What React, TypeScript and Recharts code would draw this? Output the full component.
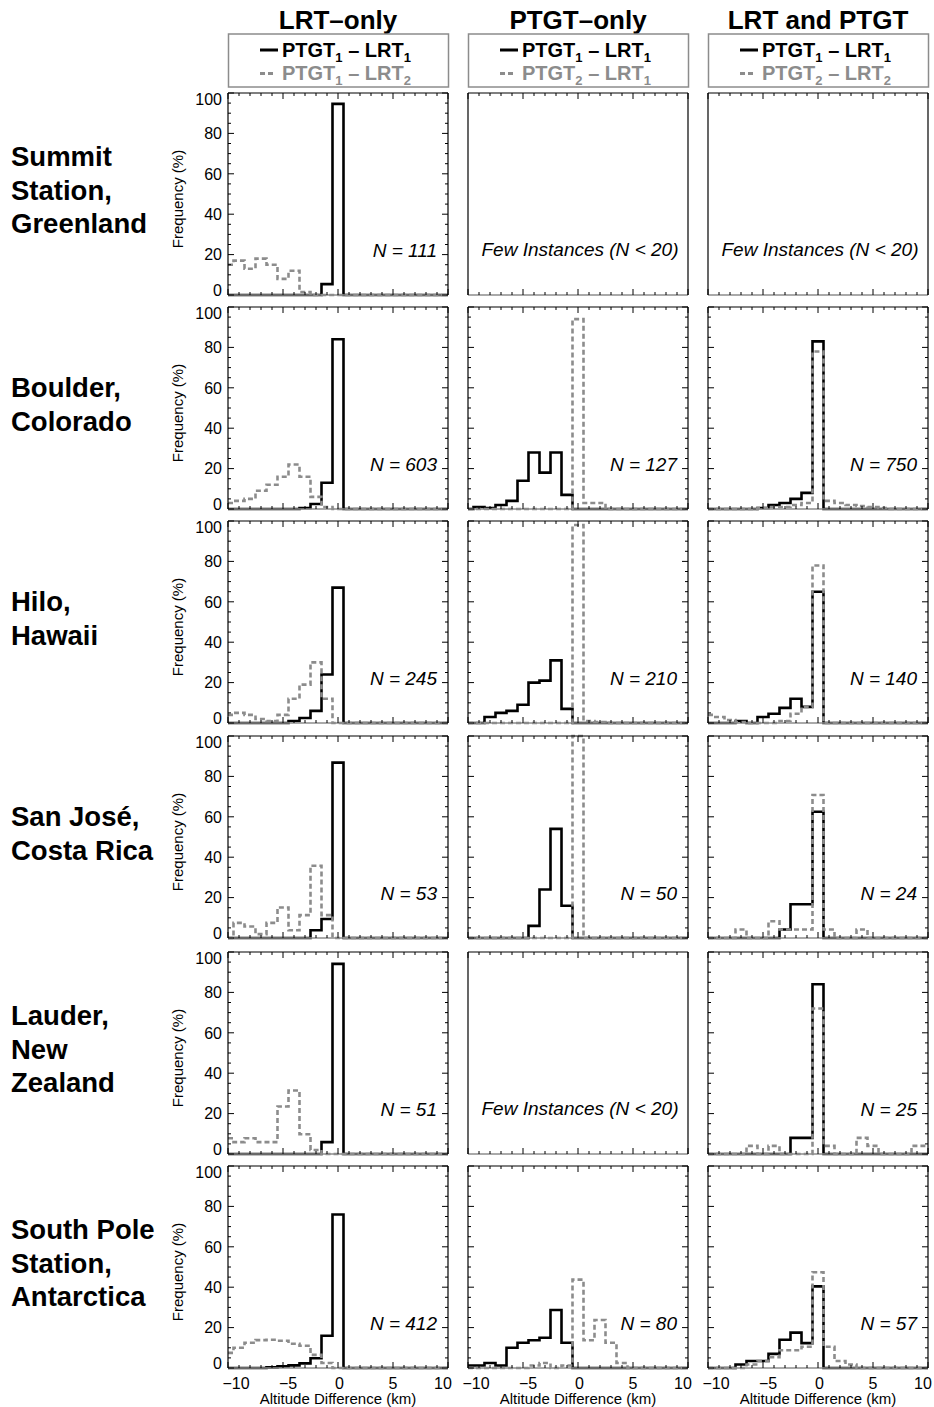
import React from 'react';
import { LineChart, Line, XAxis, YAxis } from 'recharts';

// ---------- axes / labels ----------
const altitudeBins = [-10, -9, -8, -7, -6, -5, -4, -3, -2, -1, 0, 1, 2, 3, 4, 5, 6, 7, 8, 9, 10];
const altitudeTicks = altitudeBins;
const frequencyTicks = [0, 5, 10, 15, 20, 25, 30, 35, 40, 45, 50, 55, 60, 65, 70, 75, 80, 85, 90, 95, 100];

const columnTitles = ['LRT–only', 'PTGT–only', 'LRT and PTGT'];
const legendSolid = [
  ['PTGT', '1', 'LRT', '1'],
  ['PTGT', '1', 'LRT', '1'],
  ['PTGT', '1', 'LRT', '1'],
];
const legendDashed = [
  ['PTGT', '1', 'LRT', '2'],
  ['PTGT', '2', 'LRT', '1'],
  ['PTGT', '2', 'LRT', '2'],
];
const stationNames = [
  ['Summit', 'Station,', 'Greenland'],
  ['Boulder,', 'Colorado'],
  ['Hilo,', 'Hawaii'],
  ['San José,', 'Costa Rica'],
  ['Lauder,', 'New', 'Zealand'],
  ['South Pole', 'Station,', 'Antarctica'],
];
const sampleSizes: (number | null)[][] = [
  [111, null, null],
  [603, 127, 750],
  [245, 210, 140],
  [53, 50, 24],
  [51, null, 25],
  [412, 80, 57],
];

// ---------- series (frequency %, bins -10 .. 10 km) ----------
const summitLrtSolid = [0, 0, 0, 0, 0, 0, 0, 0, 0, 5.4, 94.6, 0, 0, 0, 0, 0, 0, 0, 0, 0, 0];
const summitLrtDashed = [15, 17, 13, 18, 15, 8, 12, 1.5, 0, 0, 0, 0, 0, 0, 0, 0, 0, 0, 0, 0, 0];

const boulderLrtSolid = [0, 0, 0, 0, 0, 0, 0, 0.5, 2.5, 13, 84, 0, 0, 0, 0, 0, 0, 0, 0, 0, 0];
const boulderLrtDashed = [3, 4, 5, 9, 12, 16, 22, 16, 6, 1, 0, 0, 0, 0, 0, 0, 0, 0, 0, 0, 0];
const boulderPtgtSolid = [0, 1, 0.5, 2, 4, 14, 28, 18, 28, 7, 0, 0, 0, 0, 0, 0, 0, 0, 0, 0, 0];
const boulderPtgtDashed = [0, 0, 0, 0, 0, 0, 0, 0, 0, 0, 94, 3, 3, 0, 0, 0, 0, 0, 0, 0, 0];
const boulderBothSolid = [0, 0, 0, 0, 0, 0.5, 2, 3, 5, 8, 83, 0, 0, 0, 0, 0, 0, 0, 0, 0, 0];
const boulderBothDashed = [0, 0, 0, 0, 0, 0.5, 1, 1, 2, 3, 78, 4, 3, 2, 1.5, 1, 0.5, 0, 0, 0, 0];

const hiloLrtSolid = [0, 0, 0, 0, 0, 0, 1, 2.5, 6, 24, 67, 0, 0, 0, 0, 0, 0, 0, 0, 0, 0];
const hiloLrtDashed = [4, 5, 4, 2, 1, 4, 12, 19, 30, 12, 0, 0, 0, 0, 0, 0, 0, 0, 0, 0, 0];
const hiloPtgtSolid = [0, 0, 3, 5, 6, 9, 20, 21, 31, 7, 0, 0, 0, 0, 0, 0, 0, 0, 0, 0, 0];
const hiloPtgtDashed = [0, 0, 0, 0, 0, 0, 0, 0, 0, 0, 98, 1, 0.5, 0, 0, 0, 0, 0, 0, 0, 0];
const hiloBothSolid = [0, 0, 0, 1, 0, 3, 4.6, 7.5, 12, 8, 65, 0, 0, 0, 0, 0, 0, 0, 0, 0, 0];
const hiloBothDashed = [4, 3, 1.5, 0.5, 0, 0, 0, 1, 4.6, 8, 78, 0, 0, 0, 0, 0, 0, 0, 0, 0, 0];

const sanJoseLrtSolid = [0, 0, 0, 0, 0, 0, 0, 0, 3.8, 9.4, 86.8, 0, 0, 0, 0, 0, 0, 0, 0, 0, 0];
const sanJoseLrtDashed = [0, 7.5, 5.7, 1.9, 7.5, 15.1, 3.8, 11.3, 35.8, 11.3, 0, 0, 0, 0, 0, 0, 0, 0, 0, 0, 0];
const sanJosePtgtSolid = [0, 0, 0, 0, 0, 0, 6, 24, 54, 16, 0, 0, 0, 0, 0, 0, 0, 0, 0, 0, 0];
const sanJosePtgtDashed = [0, 0, 0, 0, 0, 0, 0, 0, 0, 0, 100, 0, 0, 0, 0, 0, 0, 0, 0, 0, 0];
const sanJoseBothSolid = [0, 0, 0, 0, 0, 0, 0, 4.2, 16.7, 16.7, 62.5, 0, 0, 0, 0, 0, 0, 0, 0, 0, 0];
const sanJoseBothDashed = [0, 0, 0, 4.2, 0, 0, 8.3, 4.2, 4.2, 4.2, 70.8, 4.2, 0, 0, 4.2, 0, 0, 0, 0, 0, 0];

const lauderLrtSolid = [0, 0, 0, 0, 0, 0, 0, 0, 0, 5.9, 94.1, 0, 0, 0, 0, 0, 0, 0, 0, 0, 0];
const lauderLrtDashed = [7.8, 5.9, 7.8, 5.9, 5.9, 23.5, 31.4, 9.8, 2, 0, 0, 0, 0, 0, 0, 0, 0, 0, 0, 0, 0];
const lauderBothSolid = [0, 0, 0, 0, 0, 0, 0, 0, 8, 8, 84, 0, 0, 0, 0, 0, 0, 0, 0, 0, 0];
const lauderBothDashed = [0, 0, 0, 0, 4, 0, 4, 0, 0, 0, 72, 4, 0, 0, 8, 4, 0, 0, 0, 4, 4];

const southPoleLrtSolid = [0, 0, 0, 0, 0.3, 0.8, 1.3, 2.3, 4.8, 16, 76, 0, 0, 0, 0, 0, 0, 0, 0, 0, 0];
const southPoleLrtDashed = [7.5, 10, 12.5, 13.8, 14, 13.5, 12, 11, 6.5, 2.5, 0, 0, 0, 0, 0, 0, 0, 0, 0, 0, 0];
const southPolePtgtSolid = [1.25, 1.25, 2.5, 1.25, 10, 12.5, 13.75, 15, 28.75, 12.5, 0, 0, 0, 0, 0, 0, 0, 0, 0, 0, 0];
const southPolePtgtDashed = [0, 0, 0, 0, 0, 0, 1.25, 2.5, 0, 1.25, 43.75, 13.75, 23.75, 12.5, 2.5, 0, 0, 0, 0, 0, 0];
const southPoleBothSolid = [0, 0, 0, 1.75, 3.5, 3.5, 7, 14, 17.5, 12.3, 40.4, 0, 0, 0, 0, 0, 0, 0, 0, 0, 0];
const southPoleBothDashed = [0, 0, 0, 0, 1.75, 3.5, 5.3, 8.8, 8.8, 10.5, 47.4, 10.5, 3.5, 1.75, 0, 0, 0, 0, 0, 0, 0];

type Pair = { solid: number[]; dashed: number[] } | null;
const panelSeries: Pair[][] = [
  [{ solid: summitLrtSolid, dashed: summitLrtDashed }, null, null],
  [
    { solid: boulderLrtSolid, dashed: boulderLrtDashed },
    { solid: boulderPtgtSolid, dashed: boulderPtgtDashed },
    { solid: boulderBothSolid, dashed: boulderBothDashed },
  ],
  [
    { solid: hiloLrtSolid, dashed: hiloLrtDashed },
    { solid: hiloPtgtSolid, dashed: hiloPtgtDashed },
    { solid: hiloBothSolid, dashed: hiloBothDashed },
  ],
  [
    { solid: sanJoseLrtSolid, dashed: sanJoseLrtDashed },
    { solid: sanJosePtgtSolid, dashed: sanJosePtgtDashed },
    { solid: sanJoseBothSolid, dashed: sanJoseBothDashed },
  ],
  [{ solid: lauderLrtSolid, dashed: lauderLrtDashed }, null, { solid: lauderBothSolid, dashed: lauderBothDashed }],
  [
    { solid: southPoleLrtSolid, dashed: southPoleLrtDashed },
    { solid: southPolePtgtSolid, dashed: southPolePtgtDashed },
    { solid: southPoleBothSolid, dashed: southPoleBothDashed },
  ],
];

// ---------- layout ----------
const FONT = "'Liberation Sans', Arial, Helvetica, sans-serif";
const GRAY = '#8c8c8c';
const PW = 220;
const PH = 202;
const ML = 44;
const MT = 6;
const MR = 6;
const MB = 44;
const CW = ML + PW + MR;
const CH = MT + PH + MB;
const colLeft = [228, 468, 708];
const rowTop = [93, 307, 521, 736, 952, 1166];

const altLabelShift: Record<string, number> = { '-10': 8, '-5': 5, '0': 1.5, '5': 0, '10': -5 };
const fmtAlt = (v: number) => (v < 0 ? `\u2212${Math.abs(v)}` : `${v}`);

// bottom-axis ticks: inward ticks on the bottom and top frame, plus the top and right frame edges
const makeBottomTick = (showLabels: boolean) => (props: any) => {
  const { x, y, payload } = props;
  const v = payload.value as number;
  const major = v % 5 === 0;
  const len = major ? 6 : 3;
  return (
    <g>
      <line x1={x} x2={x} y1={y} y2={y - len} stroke="#000" strokeWidth={1} />
      <line x1={x} x2={x} y1={y - PH} y2={y - PH + len} stroke="#000" strokeWidth={1} />
      {v === -10 ? <line x1={x} x2={x + PW} y1={y - PH} y2={y - PH} stroke="#000" strokeWidth={1.2} /> : null}
      {v === 10 ? <line x1={x} x2={x} y1={y} y2={y - PH} stroke="#000" strokeWidth={1.2} /> : null}
      {showLabels && major ? (
        <text x={x + (altLabelShift[String(v)] ?? 0)} y={y + 21} textAnchor="middle" fontFamily={FONT} fontSize={16} fill="#000">
          {fmtAlt(v)}
        </text>
      ) : null}
    </g>
  );
};

// left-axis ticks: inward ticks on the left and right frame
const makeLeftTick = (showLabels: boolean) => (props: any) => {
  const { x, y, payload } = props;
  const v = payload.value as number;
  const major = v % 20 === 0;
  const len = major ? 6 : 3;
  const shift = v === 100 ? 6 : v === 0 ? -5 : 0;
  return (
    <g>
      <line x1={x} x2={x + len} y1={y} y2={y} stroke="#000" strokeWidth={1} />
      <line x1={x + PW} x2={x + PW - len} y1={y} y2={y} stroke="#000" strokeWidth={1} />
      {showLabels && major ? (
        <text x={x - 6} y={y + shift + 5.7} textAnchor="end" fontFamily={FONT} fontSize={16} fill="#000">
          {v}
        </text>
      ) : null}
    </g>
  );
};

function Panel({ row, col }: { row: number; col: number }) {
  const pair = panelSeries[row][col];
  const data = altitudeBins.map((alt, i) =>
    pair ? { alt, solid: pair.solid[i], dashed: pair.dashed[i] } : { alt }
  );
  const isBottom = row === rowTop.length - 1;
  const isFirstCol = col === 0;
  return (
    <div style={{ position: 'absolute', left: colLeft[col] - ML, top: rowTop[row] - MT, width: CW, height: CH }}>
      <LineChart width={CW} height={CH} data={data} margin={{ top: MT, right: MR, bottom: 0, left: 0 }}>
        <XAxis
          type="number"
          dataKey="alt"
          domain={[-10, 10]}
          ticks={altitudeTicks}
          interval={0}
          height={MB}
          tickLine={false}
          tickSize={0}
          tickMargin={0}
          axisLine={{ stroke: GRAY, strokeWidth: 1.6 }}
          tick={makeBottomTick(isBottom)}
        />
        <YAxis
          type="number"
          domain={[0, 100]}
          ticks={frequencyTicks}
          interval={0}
          width={ML}
          tickLine={false}
          tickSize={0}
          tickMargin={0}
          axisLine={{ stroke: '#000', strokeWidth: 1.2 }}
          tick={makeLeftTick(isFirstCol)}
        />
        {pair ? (
          <Line
            dataKey="solid"
            type="step"
            stroke="#000"
            strokeWidth={2.6}
            strokeLinejoin="miter"
            dot={false}
            activeDot={false}
            isAnimationActive={false}
          />
        ) : null}
        {pair ? (
          <Line
            dataKey="dashed"
            type="step"
            stroke={GRAY}
            strokeWidth={2.6}
            strokeDasharray="5 3"
            strokeLinejoin="miter"
            dot={false}
            activeDot={false}
            isAnimationActive={false}
          />
        ) : null}
      </LineChart>
    </div>
  );
}

function LegendText({ x, y, parts, fill }: { x: number; y: number; parts: string[]; fill: string }) {
  return (
    <text x={x} y={y} fontFamily={FONT} fontWeight="bold" fontSize={20} fill={fill} style={{ whiteSpace: 'pre' }}>
      {parts[0]}
      <tspan fontSize={13} dy={5}>{parts[1]}</tspan>
      <tspan dy={-5}>{' \u2013 '}{parts[2]}</tspan>
      <tspan fontSize={13} dy={5}>{parts[3]}</tspan>
    </text>
  );
}

export default function App() {
  const panels: React.ReactNode[] = [];
  for (let r = 0; r < rowTop.length; r++) {
    for (let c = 0; c < 3; c++) {
      panels.push(<Panel key={`${r}-${c}`} row={r} col={c} />);
    }
  }
  return (
    <div style={{ position: 'absolute', left: 0, top: 0, width: 934, height: 1407, background: '#fff', overflow: 'hidden' }}>
      {panels}
      <svg width={934} height={1407} style={{ position: 'absolute', left: 0, top: 0, pointerEvents: 'none' }}>
        {columnTitles.map((t, c) => {
          const cx = colLeft[c] + PW / 2;
          return (
            <g key={`title-${c}`}>
              <text x={cx} y={29} textAnchor="middle" fontFamily={FONT} fontWeight="bold" fontSize={26} fill="#000">
                {t}
              </text>
              <rect x={colLeft[c] + 0.5} y={34} width={PW} height={53} fill="none" stroke={GRAY} strokeWidth={1.5} />
              <line x1={cx - 78} x2={cx - 60} y1={50} y2={50} stroke="#000" strokeWidth={3} />
              <LegendText x={cx - 56} y={56.5} parts={legendSolid[c]} fill="#000" />
              <line x1={cx - 78} x2={cx - 65} y1={73.5} y2={73.5} stroke={GRAY} strokeWidth={3} strokeDasharray="5 3" />
              <LegendText x={cx - 56} y={80} parts={legendDashed[c]} fill={GRAY} />
            </g>
          );
        })}
        {stationNames.map((lines, r) => {
          const center = rowTop[r] + PH / 2 - 4;
          const first = center - ((lines.length - 1) * 33.5) / 2 + 9.8;
          return (
            <text key={`st-${r}`} fontFamily={FONT} fontWeight="bold" fontSize={27.5} fill="#000">
              {lines.map((ln, k) => (
                <tspan key={k} x={11} y={first + k * 33.5}>
                  {ln}
                </tspan>
              ))}
            </text>
          );
        })}
        {rowTop.map((top, r) => {
          const cy = top + PH / 2 + 5;
          return (
            <text
              key={`fq-${r}`}
              x={183}
              y={cy}
              transform={`rotate(-90, 183, ${cy})`}
              textAnchor="middle"
              fontFamily={FONT}
              fontSize={15}
              fill="#000"
            >
              Frequency (%)
            </text>
          );
        })}
        {sampleSizes.map((rowN, r) =>
          rowN.map((n, c) => {
            const bottom = rowTop[r] + PH;
            if (n === null) {
              return (
                <text
                  key={`n-${r}-${c}`}
                  x={colLeft[c] + PW / 2 + 2}
                  y={bottom - 39}
                  textAnchor="middle"
                  fontFamily={FONT}
                  fontStyle="italic"
                  fontSize={19}
                  fill="#000"
                >
                  Few Instances (N {'<'} 20)
                </text>
              );
            }
            return (
              <text
                key={`n-${r}-${c}`}
                x={colLeft[c] + PW - 11}
                y={bottom - 38}
                textAnchor="end"
                fontFamily={FONT}
                fontStyle="italic"
                fontSize={19}
                fill="#000"
              >
                {`N = ${n}`}
              </text>
            );
          })
        )}
        {colLeft.map((left, c) => (
          <text
            key={`ax-${c}`}
            x={left + PW / 2}
            y={1403.5}
            textAnchor="middle"
            fontFamily={FONT}
            fontSize={15}
            fill="#000"
          >
            Altitude Difference (km)
          </text>
        ))}
      </svg>
    </div>
  );
}
